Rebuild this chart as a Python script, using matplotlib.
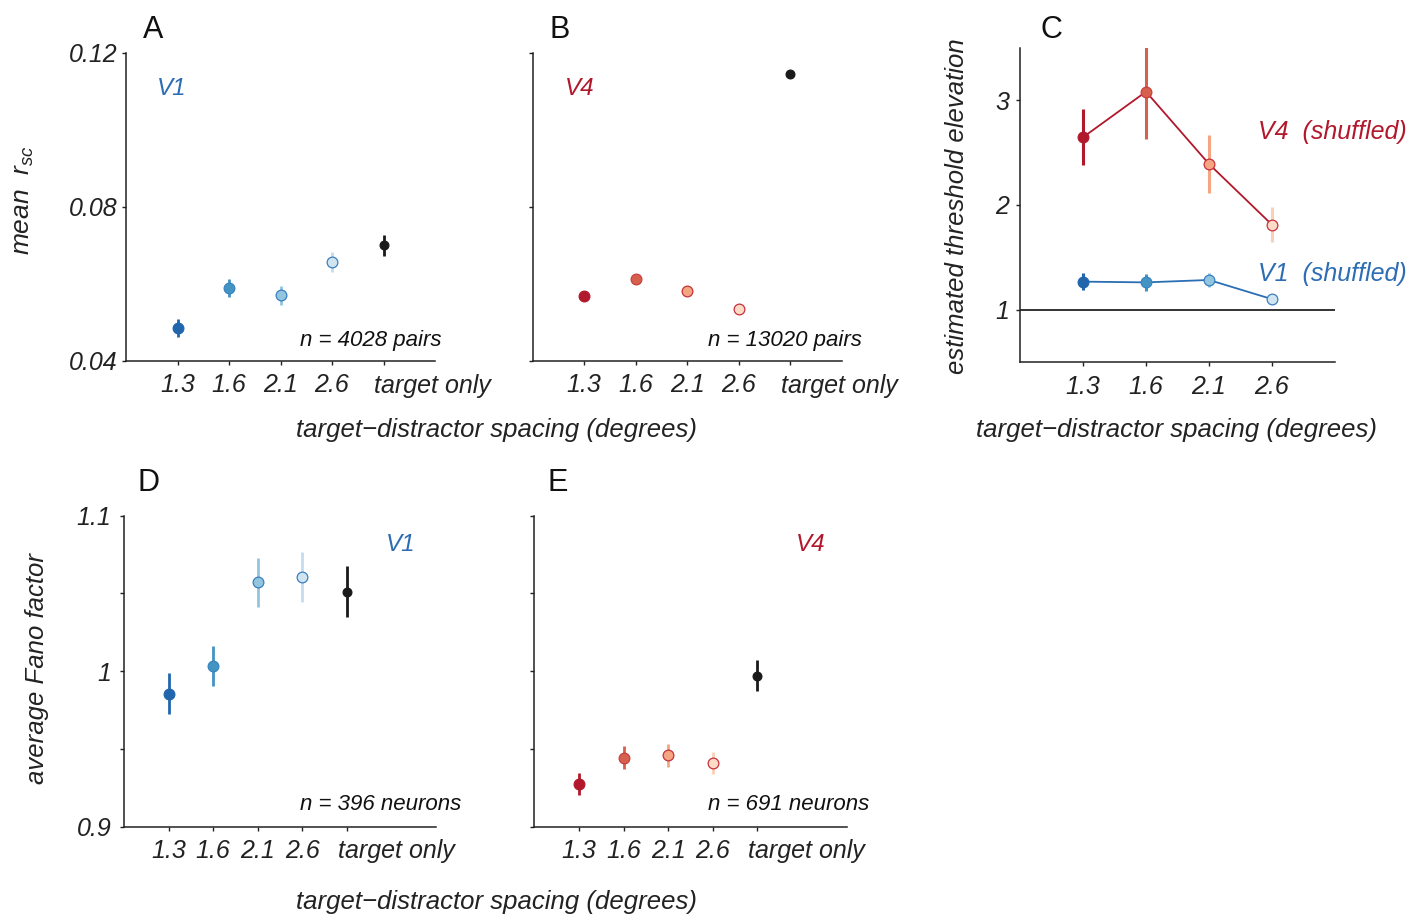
import matplotlib
matplotlib.use('Agg')
import matplotlib.pyplot as plt
import matplotlib.transforms as mtransforms
import numpy as np

plt.rcParams['font.family'] = ['Liberation Sans', 'DejaVu Sans']
plt.rcParams['font.style'] = 'italic'
plt.rcParams['mathtext.fontset'] = 'custom'
plt.rcParams['mathtext.it'] = 'Liberation Sans:italic'
plt.rcParams['mathtext.rm'] = 'Liberation Sans:italic'

# categories
spacing = ['1.3', '1.6', '2.1', '2.6']
cond_labels = spacing + ['target only']

# panel A: V1 mean r_sc
v1_rsc = [0.0486, 0.0589, 0.0571, 0.0657, 0.0700]
v1_rsc_err = [0.0023, 0.0024, 0.0025, 0.0026, 0.0026]
# panel B: V4 mean r_sc
v4_rsc = [0.0569, 0.0612, 0.0583, 0.0534, 0.1145]
v4_rsc_err = [0.0008, 0.0008, 0.0008, 0.0008, 0.0008]
# panel C: threshold elevation (shuffled)
v4_thr = [2.645, 3.08, 2.39, 1.81]
v4_thr_err = [0.267, 0.45, 0.277, 0.167]
v1_thr = [1.267, 1.26, 1.283, 1.10]
v1_thr_err = [0.083, 0.08, 0.07, 0.02]
# panel D: V1 Fano factor
v1_ff = [0.9854, 1.0036, 1.0572, 1.0608, 1.0512]
v1_ff_err = [0.0132, 0.0129, 0.0159, 0.016, 0.0163]
# panel E: V4 Fano factor
v4_ff = [0.9273, 0.9444, 0.946, 0.9412, 0.9972]
v4_ff_err = [0.007, 0.0075, 0.0075, 0.007, 0.010]

blue_face = ['#2166ac', '#4393c3', '#92c5de', '#d1e5f0', '#1a1a1a']
blue_edge = ['#2166ac', '#3a85c0', '#3a7fc1', '#3a7fc1', '#1a1a1a']
blue_err = ['#2166ac', '#4393c3', '#92c5de', '#c6dcef', '#1a1a1a']
red_face = ['#b2182b', '#d6604d', '#f4a582', '#fddbc7', '#1a1a1a']
red_edge = ['#b2182b', '#c8403c', '#c8303a', '#c8303a', '#1a1a1a']
red_err = ['#b2182b', '#d6604d', '#f4a582', '#fcd0b8', '#1a1a1a']

W, H = 1409, 916
fig = plt.figure(figsize=(W / 100, H / 100), dpi=100)


def px_axes(left, top, right, bottom):
    return fig.add_axes([left / W, 1 - bottom / H, (right - left) / W, (bottom - top) / H])


def style(ax, ypad):
    for s in ['top', 'right']:
        ax.spines[s].set_visible(False)
    for s in ['left', 'bottom']:
        ax.spines[s].set_color('#222222')
        ax.spines[s].set_linewidth(1.1)
    ax.tick_params(axis='x', length=3, width=1, pad=6, labelsize=18, colors='#222222')
    ax.tick_params(axis='y', length=3, width=1, pad=ypad, labelsize=18, colors='#222222')


def xlabels(ax, labels):
    # numeric labels centred on ticks, 'target only' starts just left of its tick
    ax.set_xticks(np.arange(1, len(labels) + 1))
    ax.set_xticklabels([l if l != 'target only' else '' for l in labels])
    if 'target only' in labels:
        trans = ax.get_xaxis_text1_transform(9)[0]
        off = mtransforms.ScaledTranslation(-9 / 100, 0, fig.dpi_scale_trans)
        ax.text(labels.index('target only') + 1, 0, 'target only', transform=trans + off,
                ha='left', va='top', fontsize=18, color='#222222')


def points(ax, x, y, err, face, edge, ecol, sizes):
    for i in range(len(x)):
        ax.errorbar(x[i], y[i], yerr=err[i], fmt='none', ecolor=ecol[i],
                    elinewidth=2, capsize=0, zorder=2, clip_on=False)
        ax.plot(x[i], y[i], 'o', ms=sizes[i], mfc=face[i], mec=edge[i],
                mew=0.9, zorder=4, clip_on=False)


sizes5 = [7.7, 7.7, 7.7, 7.7, 6.3]
x5 = np.arange(1, 6)

# A
axA = px_axes(126, 53, 435, 361)
points(axA, x5, v1_rsc, v1_rsc_err, blue_face, blue_edge, blue_err, sizes5)
axA.set_xlim(0, 6)
axA.set_ylim(0.04, 0.12)
xlabels(axA, cond_labels)
axA.set_yticks([0.04, 0.08, 0.12])
axA.set_yticklabels(['0.04', '0.08', '0.12'])
style(axA, 3)
axA.text(0.1, 0.886, 'V1', transform=axA.transAxes, color='#2c6db3', fontsize=17.5, va='center')
axA.text(1.02, 0.065, 'n = 4028 pairs', transform=axA.transAxes, color='#111111',
         fontsize=16, ha='right', va='center')

# B
axB = px_axes(532.7, 53, 841.7, 361)
points(axB, x5, v4_rsc, v4_rsc_err, red_face, red_edge, red_err, sizes5)
axB.set_xlim(0, 6)
axB.set_ylim(0.04, 0.12)
xlabels(axB, cond_labels)
axB.set_yticks([0.04, 0.08, 0.12])
axB.set_yticklabels([])
style(axB, 3)
axB.text(0.105, 0.886, 'V4', transform=axB.transAxes, color='#b2182b', fontsize=17.5, va='center')
axB.text(1.065, 0.065, 'n = 13020 pairs', transform=axB.transAxes, color='#111111',
         fontsize=16, ha='right', va='center')

# C
axC = px_axes(1020, 47.7, 1335, 362)
x4 = np.arange(1, 5)
axC.axhline(1, color='#111111', lw=1.2, zorder=1)
for i in range(4):
    axC.errorbar(x4[i], v4_thr[i], yerr=v4_thr_err[i], fmt='none', ecolor=red_err[i],
                 elinewidth=2.2, capsize=0, zorder=2)
    axC.errorbar(x4[i], v1_thr[i], yerr=v1_thr_err[i], fmt='none', ecolor=blue_err[i],
                 elinewidth=2.2, capsize=0, zorder=2)
axC.plot(x4, v4_thr, '-', color='#b2182b', lw=1.3, zorder=3)
axC.plot(x4, v1_thr, '-', color='#2a6eb4', lw=1.3, zorder=3)
for i in range(4):
    axC.plot(x4[i], v4_thr[i], 'o', ms=7.7, mfc=red_face[i], mec=red_edge[i], mew=0.9, zorder=4)
    axC.plot(x4[i], v1_thr[i], 'o', ms=7.7, mfc=blue_face[i], mec=blue_edge[i], mew=0.9, zorder=4)
axC.set_xlim(0, 5)
axC.set_ylim(0.5, 3.5)
xlabels(axC, spacing)
axC.set_yticks([1, 2, 3])
axC.set_yticklabels(['1', '2', '3'])
style(axC, 5)
axC.text(0.756, 0.732, 'V4  (shuffled)', transform=axC.transAxes, color='#b2182b',
         fontsize=18, va='center')
axC.text(0.756, 0.28, 'V1  (shuffled)', transform=axC.transAxes, color='#2c6db3',
         fontsize=18, va='center')

# D
axD = px_axes(124, 515.7, 435.7, 826.7)
points(axD, x5, v1_ff, v1_ff_err, blue_face, blue_edge, blue_err, sizes5)
axD.set_xlim(0, 7)
axD.set_ylim(0.9, 1.1)
xlabels(axD, cond_labels)
axD.set_yticks([0.9, 0.95, 1.0, 1.05, 1.1])
axD.set_yticklabels(['0.9', '', '1', '', '1.1'])
style(axD, 6)
axD.text(0.84, 0.906, 'V1', transform=axD.transAxes, color='#2c6db3', fontsize=17.5, va='center')
axD.text(1.081, 0.07, 'n = 396 neurons', transform=axD.transAxes, color='#111111',
         fontsize=16, ha='right', va='center')

# E
axE = px_axes(534.3, 515.7, 846.7, 826.7)
points(axE, x5, v4_ff, v4_ff_err, red_face, red_edge, red_err, sizes5)
axE.set_xlim(0, 7)
axE.set_ylim(0.9, 1.1)
xlabels(axE, cond_labels)
axE.set_yticks([0.9, 0.95, 1.0, 1.05, 1.1])
axE.set_yticklabels([])
style(axE, 6)
axE.text(0.838, 0.906, 'V4', transform=axE.transAxes, color='#b2182b', fontsize=17.5, va='center')
axE.text(1.071, 0.07, 'n = 691 neurons', transform=axE.transAxes, color='#111111',
         fontsize=16, ha='right', va='center')

# panel letters
for lab, x, y in [('A', 143, 30), ('B', 550, 30), ('C', 1041, 30), ('D', 138, 483), ('E', 547, 483)]:
    fig.text(x / W, 1 - y / H, lab, fontsize=22, fontstyle='normal', color='#111111',
             ha='left', va='center')

# axis labels
xl = 'target\u2212distractor spacing (degrees)'
fig.text(497 / W, 1 - 430 / H, xl, fontsize=18.5, ha='center', va='center', color='#222222')
fig.text(1177 / W, 1 - 430 / H, xl, fontsize=18.5, ha='center', va='center', color='#222222')
fig.text(497 / W, 1 - 902 / H, xl, fontsize=18.5, ha='center', va='center', color='#222222')
fig.text(24 / W, 1 - 200 / H, 'mean  $r_{sc}$', fontsize=19, rotation=90,
         ha='center', va='center', color='#222222')
fig.text(957 / W, 1 - 206 / H, 'estimated threshold elevation', fontsize=18.5, rotation=90,
         ha='center', va='center', color='#222222')
fig.text(37 / W, 1 - 668 / H, 'average Fano factor', fontsize=18.5, rotation=90,
         ha='center', va='center', color='#222222')

fig.savefig('out.png', dpi=100)
